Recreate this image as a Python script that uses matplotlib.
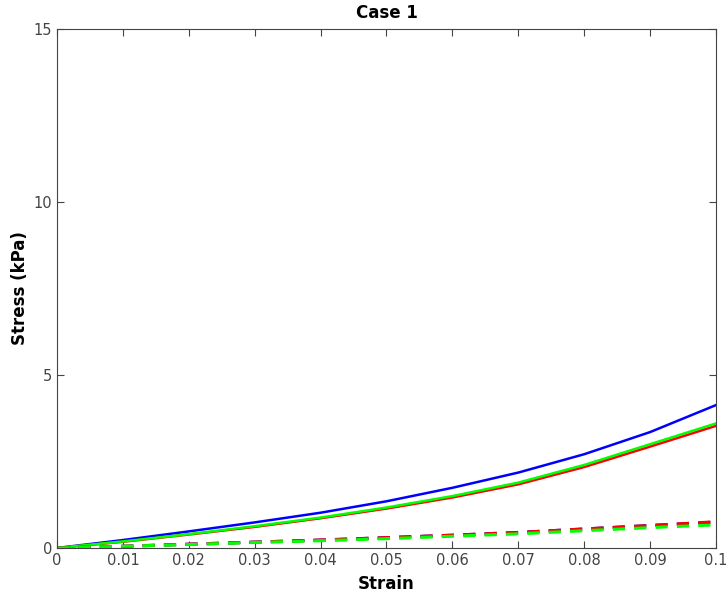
import numpy as np
import matplotlib
matplotlib.use("Agg")
import matplotlib.pyplot as plt

# strain values
strain = [0, 0.01, 0.02, 0.03, 0.04, 0.05, 0.06, 0.07, 0.08, 0.09, 0.1]

# solid curves (kPa)
blue_solid = [0, 0.23, 0.48, 0.74, 1.02, 1.35, 1.74, 2.18, 2.71, 3.35, 4.13]
green_solid = [0, 0.19, 0.40, 0.63, 0.88, 1.17, 1.50, 1.89, 2.40, 3.00, 3.60]
red_solid = [0, 0.18, 0.39, 0.61, 0.86, 1.14, 1.46, 1.84, 2.34, 2.93, 3.53]

# dashed curves (kPa)
blue_dash = [0, 0.05, 0.11, 0.17, 0.23, 0.30, 0.37, 0.45, 0.55, 0.65, 0.75]
red_dash = [0, 0.05, 0.11, 0.17, 0.23, 0.30, 0.37, 0.45, 0.55, 0.65, 0.76]
green_dash = [0, 0.05, 0.10, 0.16, 0.21, 0.27, 0.34, 0.41, 0.50, 0.59, 0.67]

plt.rcParams['font.family'] = ['DejaVu Sans']
fig = plt.figure(figsize=(7.28, 5.98), dpi=100)
ax = fig.add_axes([0.0783, 0.0836, 0.9052, 0.868])

ax.plot(strain, blue_solid, color='#0000ff', lw=1.8)
ax.plot(strain, red_solid, color='#ff0000', lw=1.8)
ax.plot(strain, green_solid, color='#00ff00', lw=1.8)
ax.plot(strain, blue_dash, color='#0000ff', lw=2.2, ls=(0, (4, 3)))
ax.plot(strain, red_dash, color='#ff0000', lw=2.2, ls=(0, (4, 3)))
ax.plot(strain, green_dash, color='#00ff00', lw=2.2, ls=(0, (4, 3)))

ax.set_xlim(0, 0.1)
ax.set_ylim(0, 15)
ax.set_xticks(np.arange(0, 0.1001, 0.01))
ax.set_xticklabels(['0', '0.01', '0.02', '0.03', '0.04', '0.05', '0.06',
                    '0.07', '0.08', '0.09', '0.1'])
ax.set_yticks([0, 5, 10, 15])
ax.tick_params(direction='in', top=True, right=True, length=5,
               colors='#444444', labelsize=10.5, width=0.8)
for s in ax.spines.values():
    s.set_color('#444444')
    s.set_linewidth(0.8)

ax.set_title('Case 1', fontsize=12, fontweight='bold', pad=8)
ax.set_xlabel('Strain', fontsize=12, fontweight='bold', labelpad=5)
ax.set_ylabel('Stress (kPa)', fontsize=12, fontweight='bold', labelpad=3)

fig.savefig('out.png', dpi=100)
